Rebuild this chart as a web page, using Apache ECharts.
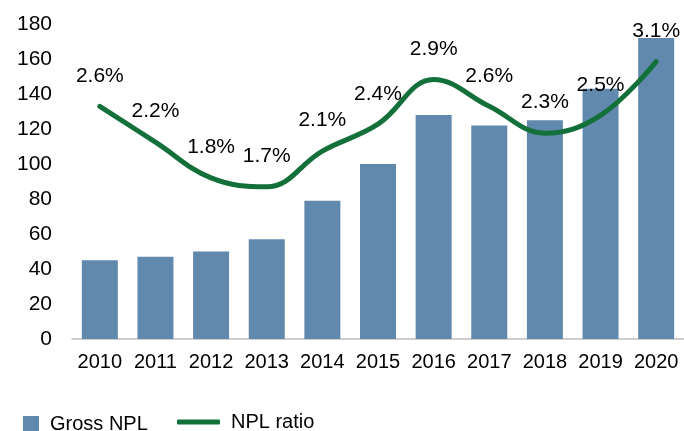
<!DOCTYPE html>
<html>
<head>
<meta charset="utf-8">
<script src="https://cdn.jsdelivr.net/npm/echarts@6/dist/echarts.min.js"></script>
<style>
  html, body { margin: 0; padding: 0; background: #fff; }
  #chart { width: 684px; height: 431px; }
</style>
</head>
<body>
<div id="chart"></div>
<script>
const years = ['2010', '2011', '2012', '2013', '2014', '2015', '2016', '2017', '2018', '2019', '2020'];
const grossNpl = [45, 47, 50, 57, 79, 100, 128, 122, 125, 143, 172];
const nplRatio = [2.6, 2.2, 1.8, 1.7, 2.1, 2.4, 2.9, 2.6, 2.3, 2.5, 3.1];

const chart = echarts.init(document.getElementById('chart'));
const font = 'Liberation Sans, Arial, sans-serif';

const option = {
  animation: false,
  textStyle: { fontFamily: font },
  grid: { left: 72, right: -4, top: 24, bottom: 92 },
  legend: [
    {
      data: ['Gross NPL'],
      left: 18, top: 409,
      icon: 'rect', itemWidth: 16, itemHeight: 16, itemGap: 0,
      textStyle: { fontSize: 20, color: '#000', fontFamily: font, padding: [0, 0, 0, 6] }
    },
    {
      data: ['NPL ratio'],
      left: 172, top: 407,
      icon: 'roundRect', itemWidth: 43, itemHeight: 5,
      textStyle: { fontSize: 20, color: '#000', fontFamily: font, padding: [0, 0, 0, 6] }
    }
  ],
  xAxis: {
    type: 'category',
    data: years,
    axisLine: { lineStyle: { color: '#bfbfbf', width: 1.5 } },
    axisTick: { show: false },
    axisLabel: { color: '#000', fontSize: 20, margin: 13, interval: 0, fontFamily: font }
  },
  yAxis: [
    {
      type: 'value',
      min: 0, max: 180, interval: 20,
      splitLine: { show: false },
      axisLine: { show: false },
      axisLabel: { color: '#000', fontSize: 21, margin: 20, fontFamily: font }
    },
    {
      type: 'value',
      min: 0, max: 3.52,
      show: false
    }
  ],
  series: [
    {
      name: 'Gross NPL',
      type: 'bar',
      data: grossNpl,
      barWidth: 36,
      itemStyle: { color: '#6089ad' }
    },
    {
      name: 'NPL ratio',
      type: 'line',
      yAxisIndex: 1,
      data: nplRatio,
      smooth: 0.4,
      symbol: 'circle',
      symbolSize: 2,
      showSymbol: true,
      lineStyle: { color: '#13703a', width: 5, cap: 'round' },
      itemStyle: { color: '#13703a' },
      label: {
        show: true,
        position: 'top',
        distance: 19,
        color: '#000',
        fontSize: 21,
        fontFamily: font,
        formatter: (p) => p.value.toFixed(1) + '%'
      }
    }
  ]
};

chart.setOption(option);
</script>
</body>
</html>
